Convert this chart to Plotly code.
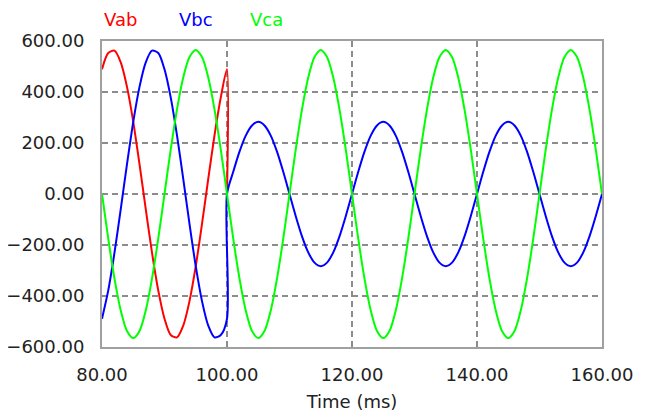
import plotly.graph_objects as go

series_names = ["Vab", "Vbc", "Vca"]
series_colors = ["#ff0000", "#0000ff", "#00ff00"]

x_ticks = [80, 100, 120, 140, 160]
y_ticks = [-600, -400, -200, 0, 200, 400, 600]

# time grid (ms)
time_ms = [80, 81, 82, 83, 84, 85, 86, 87, 88, 89, 90, 91, 92, 93, 94, 95, 96, 97, 98, 99,
           100, 101, 102, 103, 104, 105, 106, 107, 108, 109, 110, 111, 112, 113, 114, 115, 116, 117, 118, 119,
           120, 121, 122, 123, 124, 125, 126, 127, 128, 129, 130, 131, 132, 133, 134, 135, 136, 137, 138, 139,
           140, 141, 142, 143, 144, 145, 146, 147, 148, 149, 150, 151, 152, 153, 154, 155, 156, 157, 158, 159,
           160]

# Vab: present until 100 ms, then drops to 0
vab_time = [80, 81, 82, 83, 84, 85, 86, 87, 88, 89, 90, 91, 92, 93, 94, 95, 96, 97, 98, 99, 100, 100]
vab = [489, 553, 562, 516, 420, 283, 117, -59, -230, -378, -489, -553, -562, -516, -420, -283, -117,
       59, 230, 378, 489, 0]

# Vbc: full amplitude until 100 ms, then half amplitude
vbc_time = [80, 81, 82, 83, 84, 85, 86, 87, 88, 89, 90, 91, 92, 93, 94, 95, 96, 97, 98, 99, 100,
            100, 101, 102, 103, 104, 105, 106, 107, 108, 109, 110, 111, 112, 113, 114, 115, 116, 117, 118, 119,
            120, 121, 122, 123, 124, 125, 126, 127, 128, 129, 130, 131, 132, 133, 134, 135, 136, 137, 138, 139,
            140, 141, 142, 143, 144, 145, 146, 147, 148, 149, 150, 151, 152, 153, 154, 155, 156, 157, 158, 159,
            160]
vbc = [-489, -378, -230, -59, 117, 283, 420, 516, 562, 553, 489, 378, 230, 59, -117, -283, -420, -516,
       -562, -553, -489,
       0, 87, 166, 229, 269, 283, 269, 229, 166, 87, 0, -87, -166, -229, -269, -283, -269, -229, -166, -87,
       0, 87, 166, 229, 269, 283, 269, 229, 166, 87, 0, -87, -166, -229, -269, -283, -269, -229, -166, -87,
       0, 87, 166, 229, 269, 283, 269, 229, 166, 87, 0, -87, -166, -229, -269, -283, -269, -229, -166, -87,
       0]

# Vca: full amplitude throughout
vca = [0, -175, -332, -457, -537, -565, -537, -457, -332, -175, 0, 175, 332, 457, 537, 565, 537, 457, 332, 175,
       0, -175, -332, -457, -537, -565, -537, -457, -332, -175, 0, 175, 332, 457, 537, 565, 537, 457, 332, 175,
       0, -175, -332, -457, -537, -565, -537, -457, -332, -175, 0, 175, 332, 457, 537, 565, 537, 457, 332, 175,
       0, -175, -332, -457, -537, -565, -537, -457, -332, -175, 0, 175, 332, 457, 537, 565, 537, 457, 332, 175,
       0]

xs = [vab_time, vbc_time, time_ms]
ys = [vab, vbc, vca]

fig = go.Figure()
for name, color, x, y in zip(series_names, series_colors, xs, ys):
    fig.add_trace(go.Scatter(x=x, y=y, mode="lines", name=name,
                             line=dict(color=color, width=2, shape="spline", smoothing=0.8),
                             showlegend=False))

font_family = "DejaVu Sans"
axis_common = dict(
    showgrid=True, gridcolor="#8c8c8c", griddash="6px,4px", gridwidth=2,
    showline=True, mirror=True, linecolor="#a0a0a0", linewidth=2,
    zeroline=False, ticks="", tickformat=".2f", automargin=False,
    tickfont=dict(family=font_family, size=18, color="#222222"),
)

# the page body adds an 8px offset, so the figure is sized to fit the 648x412 window
fig.update_layout(
    width=640, height=404,
    margin=dict(l=94, r=46, t=33, b=65),
    paper_bgcolor="white", plot_bgcolor="white",
    xaxis=dict(range=[80, 160], tickvals=x_ticks, ticklabelstandoff=10,
               title=dict(text="Time (ms)", standoff=12,
                          font=dict(family=font_family, size=18, color="#222222")),
               **axis_common),
    yaxis=dict(range=[-600, 600], tickvals=y_ticks, ticklabelstandoff=12, **axis_common),
)

legend_x = [0.0, 0.15, 0.292]
for name, color, lx in zip(series_names, series_colors, legend_x):
    fig.add_annotation(x=lx, y=1.069, xref="paper", yref="paper", text=name,
                       showarrow=False, xanchor="left", yanchor="middle",
                       font=dict(family=font_family, size=18, color=color))

fig.write_html("out.html")
